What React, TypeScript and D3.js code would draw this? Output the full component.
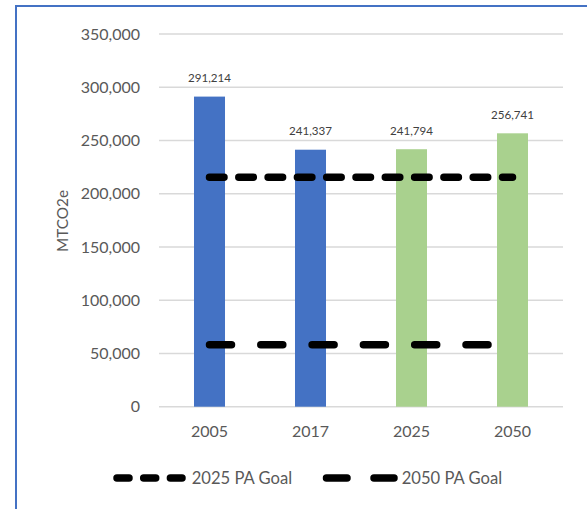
import React from 'react';
import * as d3 from 'd3';

const categories = ['2005', '2017', '2025', '2050'];
const emissions = [291214, 241337, 241794, 256741];
const barKind = ['actual', 'actual', 'projected', 'projected'];
const goal2025 = [215498, 215498, 215498, 215498];
const goal2050 = [58243, 58243, 58243, 58243];
const yTicks = [0, 50000, 100000, 150000, 200000, 250000, 300000, 350000];
const yTitle = 'MTCO2e';
const legendLabels = ['2025 PA Goal', '2050 PA Goal'];

const W = 587;
const H = 509;
const FONT = 'Lato, "Open Sans", sans-serif';

export default function App() {
  const x = d3
    .scaleBand<string>()
    .domain(categories)
    .range([159, 563])
    .paddingInner(0.693)
    .paddingOuter(0.3465);
  const y = d3.scaleLinear().domain([0, 350000]).range([406.7, 34]);
  const fmt = d3.format(',');
  const cx = (c: string) => (x(c) as number) + x.bandwidth() / 2;
  const colour = (k: string) => (k === 'actual' ? '#4472C4' : '#A9D18E');

  const line = d3
    .line<number>()
    .x((_, i) => cx(categories[i]))
    .y((d) => y(d));

  return (
    <div style={{ position: 'fixed', left: 0, top: 0 }}>
      <svg width={W} height={H} style={{ display: 'block', background: '#fff' }}>
        <rect x={16} y={6} width={700} height={700} fill="#fff" stroke="#4472C4" strokeWidth={2} />
        {yTicks.map((t) => (
          <g key={t}>
            <line x1={159} x2={563} y1={y(t)} y2={y(t)} stroke="#D9D9D9" strokeWidth={1.5} />
            <text
              x={140}
              y={y(t)}
              dy="0.36em"
              textAnchor="end"
              fontFamily={FONT}
              fontSize={16}
              fill="#595959"
            >
              {fmt(t)}
            </text>
          </g>
        ))}
        <text
          transform={`translate(67.5, 221) rotate(-90)`}
          textAnchor="middle"
          fontFamily={FONT}
          fontSize={15.3}
          fill="#595959"
        >
          {yTitle}
        </text>
        {categories.map((c, i) => (
          <g key={c}>
            <rect
              x={x(c)}
              y={y(emissions[i])}
              width={x.bandwidth()}
              height={y(0) - y(emissions[i])}
              fill={colour(barKind[i])}
            />
            <text
              x={cx(c)}
              y={y(emissions[i]) - 14.5}
              textAnchor="middle"
              fontFamily={FONT}
              fontSize={11.6}
              fill="#404040"
            >
              {fmt(emissions[i])}
            </text>
            <text
              x={cx(c)}
              y={436.5}
              textAnchor="middle"
              fontFamily={FONT}
              fontSize={16}
              fill="#595959"
            >
              {c}
            </text>
          </g>
        ))}
        <path
          d={line(goal2025) || ''}
          fill="none"
          stroke="#000"
          strokeWidth={7.5}
          strokeLinecap="round"
          strokeDasharray="14.5 14.8"
        />
        <path
          d={line(goal2050) || ''}
          fill="none"
          stroke="#000"
          strokeWidth={7.5}
          strokeLinecap="round"
          strokeDasharray="22 29.3"
        />
        <g>
          <line
            x1={117}
            x2={182}
            y1={478}
            y2={478}
            stroke="#000"
            strokeWidth={7.5}
            strokeLinecap="round"
            strokeDasharray="12 14.7"
          />
          <text x={191.7} y={483.5} fontFamily={FONT} fontSize={16.6} fill="#595959">
            {legendLabels[0]}
          </text>
          <line
            x1={326.5}
            x2={394}
            y1={478}
            y2={478}
            stroke="#000"
            strokeWidth={7.5}
            strokeLinecap="round"
            strokeDasharray="20.5 27"
          />
          <text x={401.7} y={483.5} fontFamily={FONT} fontSize={16.6} fill="#595959">
            {legendLabels[1]}
          </text>
        </g>
      </svg>
    </div>
  );
}
